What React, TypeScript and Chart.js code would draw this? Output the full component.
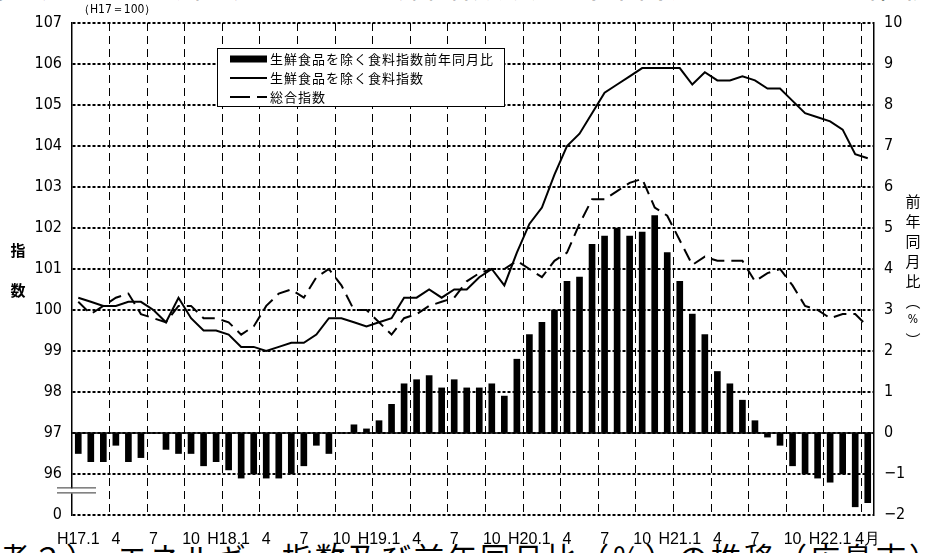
import React, { useEffect, useRef } from 'react';
import { Chart, registerables } from 'chart.js';
Chart.register(...registerables);

// ---- data ----
const months = [
  'H17.1','H17.2','H17.3','H17.4','H17.5','H17.6','H17.7','H17.8','H17.9','H17.10','H17.11','H17.12',
  'H18.1','H18.2','H18.3','H18.4','H18.5','H18.6','H18.7','H18.8','H18.9','H18.10','H18.11','H18.12',
  'H19.1','H19.2','H19.3','H19.4','H19.5','H19.6','H19.7','H19.8','H19.9','H19.10','H19.11','H19.12',
  'H20.1','H20.2','H20.3','H20.4','H20.5','H20.6','H20.7','H20.8','H20.9','H20.10','H20.11','H20.12',
  'H21.1','H21.2','H21.3','H21.4','H21.5','H21.6','H21.7','H21.8','H21.9','H21.10','H21.11','H21.12',
  'H22.1','H22.2','H22.3','H22.4',
];

const quarterTicks = [
  'H17.1','4','7','10','H18.1','4','7','10','H19.1','4','7','10',
  'H20.1','4','7','10','H21.1','4','7','10','H22.1','4月',
];

// 生鮮食品を除く食料指数前年同月比 (%)
const foodYoY = [
  -0.5,-0.7,-0.7,-0.3,-0.7,-0.6,0,-0.4,-0.5,-0.5,-0.8,-0.7,
  -0.9,-1.1,-1.0,-1.1,-1.1,-1.0,-0.8,-0.3,-0.5,0,0.2,0.1,
  0.3,0.7,1.2,1.3,1.4,1.1,1.3,1.1,1.1,1.2,0.9,1.8,
  2.4,2.7,3.0,3.7,3.8,4.6,4.8,5.0,4.8,4.9,5.3,4.4,
  3.7,2.9,2.4,1.5,1.2,0.8,0.3,-0.1,-0.3,-0.8,-1.0,-1.1,
  -1.2,-1.0,-1.8,-1.7,
];

// 生鮮食品を除く食料指数
const foodIndex = [
  100.3,100.2,100.1,100.1,100.2,100.2,100.0,99.7,100.3,99.8,99.5,99.5,
  99.4,99.1,99.1,99.0,99.1,99.2,99.2,99.4,99.8,99.8,99.7,99.6,
  99.7,99.8,100.3,100.3,100.5,100.3,100.5,100.5,100.8,101.0,100.6,101.4,
  102.1,102.5,103.3,104.0,104.3,104.8,105.3,105.5,105.7,105.9,105.9,105.9,
  105.9,105.5,105.8,105.6,105.6,105.7,105.6,105.4,105.4,105.1,104.8,104.7,
  104.6,104.4,103.8,103.7,
];

// 総合指数
const overallIndex = [
  100.2,99.9,100.1,100.3,100.4,99.9,99.8,99.7,100.1,100.1,99.8,99.8,
  99.7,99.4,99.6,100.1,100.4,100.5,100.3,100.8,101.0,100.6,100.0,100.0,
  99.7,99.4,99.8,99.9,100.1,100.2,100.3,100.7,100.9,101.0,101.0,101.2,
  101.0,100.8,101.2,101.4,102.1,102.7,102.7,102.9,103.1,103.2,102.5,102.3,
  101.7,101.1,101.3,101.2,101.2,101.2,100.7,100.9,101.0,100.6,100.1,100.0,
  99.8,99.9,99.9,99.6,
];

const legendLabels = ['生鮮食品を除く食料指数前年同月比', '生鮮食品を除く食料指数', '総合指数'];

const JP = "'Noto Sans CJK JP', 'Noto Sans', sans-serif";
const NARROW = "'Liberation Sans Narrow', 'DejaVu Sans Condensed', 'Liberation Sans', sans-serif";
const SANS = "'Liberation Sans', 'Noto Sans', sans-serif";

const decorPlugin = {
  id: 'decor',
  beforeDatasetsDraw(chart: any) {
    const { ctx, chartArea, scales } = chart;
    const y0 = scales.y1.getPixelForValue(0);
    ctx.save();
    ctx.strokeStyle = '#000';
    ctx.lineWidth = 1.5;
    ctx.beginPath();
    ctx.moveTo(chartArea.left, y0);
    ctx.lineTo(chartArea.right, y0);
    ctx.stroke();
    ctx.restore();
  },
  afterDraw(chart: any) {
    const { ctx, chartArea, scales } = chart;
    ctx.save();
    // axis break on left axis
    const yb = scales.y.getPixelForValue(95.6);
    ctx.fillStyle = '#fff';
    ctx.fillRect(chartArea.left - 3, yb - 2, 6, 5);
    ctx.strokeStyle = '#333';
    ctx.lineWidth = 1;
    ctx.beginPath();
    ctx.moveTo(57, yb - 2.5); ctx.lineTo(96, yb - 2.5);
    ctx.moveTo(57, yb + 2.5); ctx.lineTo(96, yb + 2.5);
    ctx.stroke();

    // legend
    const lx = 217.5, ly = 48.5, lw = 287, lh = 58;
    ctx.fillStyle = '#fff';
    ctx.fillRect(lx, ly, lw, lh);
    ctx.strokeStyle = '#000';
    ctx.lineWidth = 1;
    ctx.strokeRect(lx, ly, lw, lh);
    const rows = [59, 78, 97];
    ctx.fillStyle = '#000';
    ctx.fillRect(230, rows[0] - 3.5, 37, 7);
    ctx.lineWidth = 2;
    ctx.beginPath();
    ctx.moveTo(230, rows[1]); ctx.lineTo(267, rows[1]);
    ctx.stroke();
    ctx.beginPath();
    ctx.moveTo(230, rows[2]); ctx.lineTo(250, rows[2]);
    ctx.moveTo(257, rows[2]); ctx.lineTo(267, rows[2]);
    ctx.stroke();
    ctx.font = `13px ${JP}`;
    (ctx as any).letterSpacing = '1px';
    ctx.textBaseline = 'middle';
    ctx.textAlign = 'left';
    legendLabels.forEach((t, i) => ctx.fillText(t, 270, rows[i]));
    (ctx as any).letterSpacing = '0px';

    // base note
    ctx.font = `12px ${NARROW}`;
    ctx.fillText('（H17＝100）', 78, 10);

    // left axis title
    ctx.font = `bold 15px ${JP}`;
    ctx.textAlign = 'center';
    ctx.fillText('指', 18, 250);
    ctx.fillText('数', 18, 290);

    // right axis title
    const rchars = ['前', '年', '同', '月', '比', '︵', '%', '︶'];
    const ry = [201, 221, 241, 261, 281, 301, 320, 340];
    rchars.forEach((c, i) => {
      ctx.font = c === '%' ? `12px ${NARROW}` : `15px ${JP}`;
      ctx.fillText(c, 913, ry[i]);
    });
    ctx.restore();
  },
};

export default function App() {
  const ref = useRef<HTMLCanvasElement | null>(null);
  useEffect(() => {
    if (!ref.current) return;
    const chart = new Chart(ref.current, {
      data: {
        labels: months,
        datasets: [
          {
            type: 'line',
            label: legendLabels[1],
            data: foodIndex,
            yAxisID: 'y',
            borderColor: '#000',
            borderWidth: 2,
            pointRadius: 0,
            tension: 0,
            order: 0,
          },
          {
            type: 'line',
            label: legendLabels[2],
            data: overallIndex,
            yAxisID: 'y',
            borderColor: '#000',
            borderWidth: 2,
            borderDash: [13, 7],
            pointRadius: 0,
            tension: 0,
            order: 1,
          },
          {
            type: 'bar',
            label: legendLabels[0],
            data: foodYoY,
            yAxisID: 'y1',
            backgroundColor: '#000',
            barThickness: 6,
            order: 2,
          },
        ],
      } as any,
      options: {
        responsive: false,
        animation: false,
        devicePixelRatio: 1,
        layout: { padding: { top: 23, left: 0, right: 0, bottom: 0 } },
        plugins: { legend: { display: false }, tooltip: { enabled: false } },
        scales: {
          x: {
            type: 'category',
            offset: true,
            grid: {
              offset: true,
              drawTicks: false,
              lineWidth: 1,
              color: (c: any) => (c.index % 3 === 0 && c.index > 0 && c.index < 64 ? '#000' : 'rgba(0,0,0,0)'),
            },
            border: { display: false, dash: [8, 5] },
            ticks: {
              autoSkip: false,
              maxRotation: 0,
              minRotation: 0,
              padding: 15,
              color: '#000',
              font: { size: 16, family: SANS },
              callback: (_v: any, i: number) => (i % 3 === 0 ? quarterTicks[i / 3] : ''),
            },
            afterFit: (s: any) => { s.height = 38; },
          },
          y: {
            position: 'left',
            min: 95,
            max: 107,
            grid: { color: '#000', lineWidth: 2, drawTicks: false },
            border: { display: true, color: '#000', width: 1.5, dash: [3, 2] },
            ticks: {
              stepSize: 1,
              padding: 10,
              color: '#000',
              font: { size: 16, family: NARROW },
              callback: (v: any) => (v === 95 ? '0' : String(v)),
            },
            afterFit: (s: any) => { s.width = 72; },
          },
          y1: {
            position: 'right',
            min: -2,
            max: 10,
            grid: { drawOnChartArea: false, drawTicks: false },
            border: { display: true, color: '#000', width: 1.5 },
            ticks: {
              stepSize: 1,
              padding: 10,
              color: '#000',
              font: { size: 16, family: NARROW },
              callback: (v: any) => (v < 0 ? '−' + Math.abs(v) : String(v)),
            },
            afterFit: (s: any) => { s.width = 52; },
          },
        },
      } as any,
      plugins: [decorPlugin],
    });
    return () => chart.destroy();
  }, []);

  return (
    <div style={{ position: 'fixed', left: 0, top: 0, width: 926, height: 553, overflow: 'hidden', background: '#fff' }}>
      <div style={{ position: 'absolute', left: -40, top: -31, whiteSpace: 'nowrap', font: `30px ${JP}`, letterSpacing: 3, lineHeight: '30px', color: '#000' }}>
        （参考１）　生鮮食品を除く食料指数及び前年同月比（％）の推移（広島市）
      </div>
      <div style={{ position: 'absolute', left: -66, top: 541, whiteSpace: 'nowrap', font: `30px ${JP}`, letterSpacing: 3, lineHeight: '30px', color: '#000' }}>
        （参考２）　エネルギー指数及び前年同月比（％）の推移（広島市）
      </div>
      <canvas ref={ref} width={926} height={553} style={{ position: 'absolute', left: 0, top: 0 }} />
    </div>
  );
}
